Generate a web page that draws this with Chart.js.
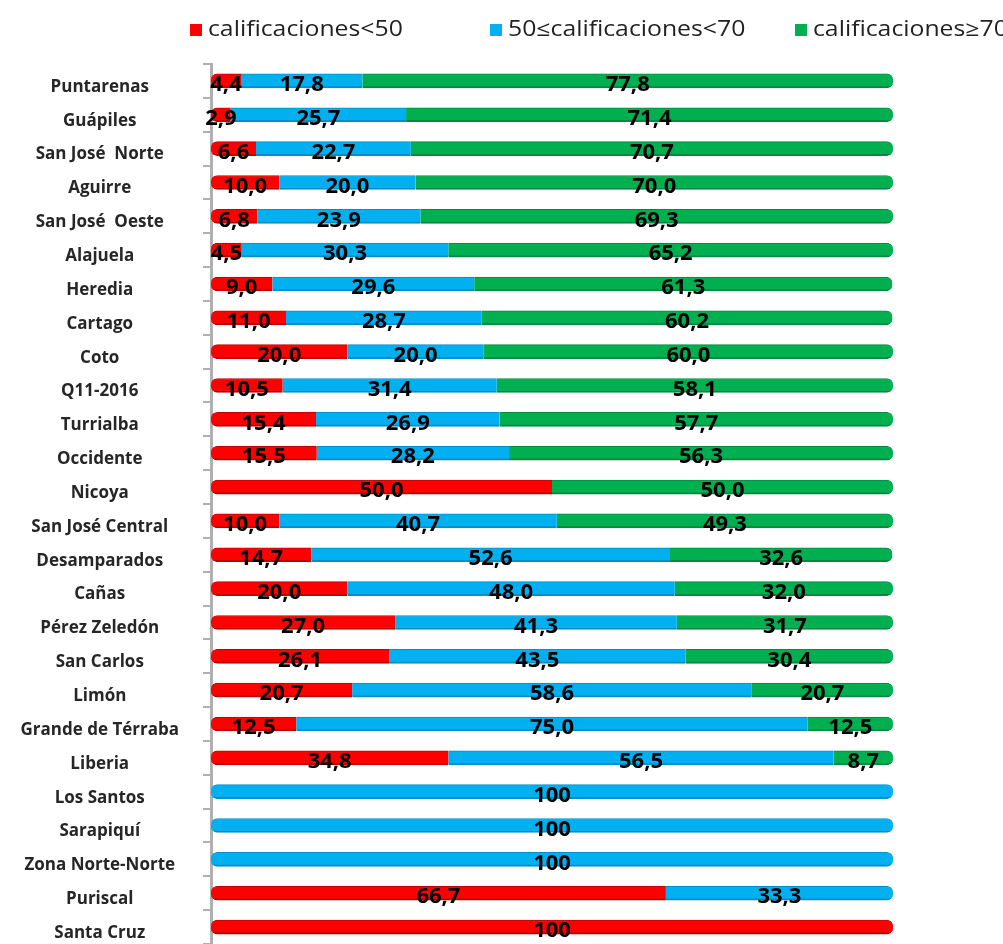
<!DOCTYPE html>
<html>
<head>
<meta charset="utf-8">
<script src="https://cdn.jsdelivr.net/npm/chart.js@4.4.1/dist/chart.umd.min.js"></script>
<style>
  html, body { margin: 0; padding: 0; background: #fff; }
</style>
</head>
<body>
<canvas id="chart" width="1003" height="944"></canvas>
<script>
// regional results, percent of schools per grade band
var categories = ['Puntarenas', 'Guápiles', 'San José  Norte', 'Aguirre', 'San José  Oeste',
  'Alajuela', 'Heredia', 'Cartago', 'Coto', 'Q11-2016', 'Turrialba', 'Occidente', 'Nicoya',
  'San José Central', 'Desamparados', 'Cañas', 'Pérez Zeledón', 'San Carlos', 'Limón',
  'Grande de Térraba', 'Liberia', 'Los Santos', 'Sarapiquí', 'Zona Norte-Norte', 'Puriscal', 'Santa Cruz']

var seriesNames = ['calificaciones<50', '50≤calificaciones<70', 'calificaciones≥70']

var below50 = [4.4, 2.9, 6.6, 10.0, 6.8, 4.5, 9.0, 11.0, 20.0, 10.5, 15.4, 15.5, 50.0,
  10.0, 14.7, 20.0, 27.0, 26.1, 20.7, 12.5, 34.8, 0, 0, 0, 66.7, 100]
var from50to70 = [17.8, 25.7, 22.7, 20.0, 23.9, 30.3, 29.6, 28.7, 20.0, 31.4, 26.9, 28.2, 0,
  40.7, 52.6, 48.0, 41.3, 43.5, 58.6, 75.0, 56.5, 100, 100, 100, 33.3, 0]
var above70 = [77.8, 71.4, 70.7, 70.0, 69.3, 65.2, 61.3, 60.2, 60.0, 58.1, 57.7, 56.3, 50.0,
  49.3, 32.6, 32.0, 31.7, 30.4, 20.7, 12.5, 8.7, 0, 0, 0, 0, 0]

var allSeries = [below50, from50to70, above70]
var colors = ['#ff0000', '#00b0f0', '#00b050']
var edges = ['#c00000', '#0090c8', '#008a40']

function fmt(v) {
  if (v === 100) return '100'
  return v.toFixed(1).replace('.', ',')
}

// round only the two outer ends of each stacked bar
function endRadius(c) {
  var i = c.datasetIndex, j = c.dataIndex
  var first = -1, last = -1
  allSeries.forEach(function (s, k) {
    if (s[j]) { if (first < 0) first = k; last = k }
  })
  var r = 6
  return {
    topLeft: i === first ? r : 0,
    bottomLeft: i === first ? r : 0,
    topRight: i === last ? r : 0,
    bottomRight: i === last ? r : 0
  }
}

// values written on each segment
var valueLabels = {
  id: 'valueLabels',
  afterDatasetsDraw: function (chart) {
    var ctx = chart.ctx
    ctx.save()
    ctx.font = 'bold 22px "Open Sans"'
    ctx.fillStyle = '#000'
    ctx.textAlign = 'center'
    ctx.textBaseline = 'middle'
    chart.data.datasets.forEach(function (ds, i) {
      var meta = chart.getDatasetMeta(i)
      meta.data.forEach(function (bar, j) {
        var v = ds.data[j]
        if (!v) return
        var x = (bar.x + bar.base) / 2
        ctx.fillText(fmt(v), x, bar.y + 4)
      })
    })
    ctx.restore()
  }
}

// legend drawn across the top right, text a bit stretched like the original
var topLegend = {
  id: 'topLegend',
  afterDraw: function (chart) {
    var ctx = chart.ctx
    var xs = [190, 490, 795]
    ctx.save()
    ctx.font = '21px "Open Sans"'
    ctx.textBaseline = 'middle'
    ctx.textAlign = 'left'
    chart.data.datasets.forEach(function (ds, i) {
      ctx.fillStyle = ds.backgroundColor
      ctx.fillRect(xs[i], 24, 12, 12)
      ctx.save()
      ctx.translate(xs[i] + 18, 30)
      ctx.scale(1.18, 1)
      ctx.fillStyle = '#222'
      ctx.fillText(ds.label, 0, 0)
      ctx.restore()
    })
    ctx.restore()
  }
}

var ctx = document.getElementById('chart').getContext('2d')

var chart = new Chart(ctx, {
  type: 'bar',
  data: {
    labels: categories,
    datasets: allSeries.map(function (d, i) {
      return {
        label: seriesNames[i],
        data: d,
        backgroundColor: colors[i],
        borderColor: edges[i],
        borderWidth: { top: 1, bottom: 2, left: 0, right: 0 },
        borderSkipped: false,
        borderRadius: endRadius,
        barThickness: 14
      }
    })
  },
  options: {
    indexAxis: 'y',
    responsive: false,
    animation: false,
    layout: { padding: { top: 64, right: 110, bottom: 0, left: 0 } },
    plugins: {
      legend: { display: false },
      tooltip: { enabled: false }
    },
    scales: {
      x: {
        stacked: true,
        min: 0,
        max: 100,
        display: false
      },
      y: {
        stacked: true,
        afterFit: function (scale) {
          scale.width = 211
          scale.paddingTop = 0
          scale.paddingBottom = 0
        },
        border: { display: true, color: '#b0b0b0', width: 3 },
        grid: {
          offset: true,
          drawOnChartArea: false,
          tickLength: 8,
          color: '#b0b0b0',
          lineWidth: 2
        },
        ticks: {
          autoSkip: false,
          crossAlign: 'center',
          padding: 24,
          labelOffset: 6,
          color: '#262626',
          font: { family: 'Open Sans', weight: 'bold', size: 17 }
        }
      }
    }
  },
  plugins: [valueLabels, topLegend]
})
</script>
</body>
</html>
